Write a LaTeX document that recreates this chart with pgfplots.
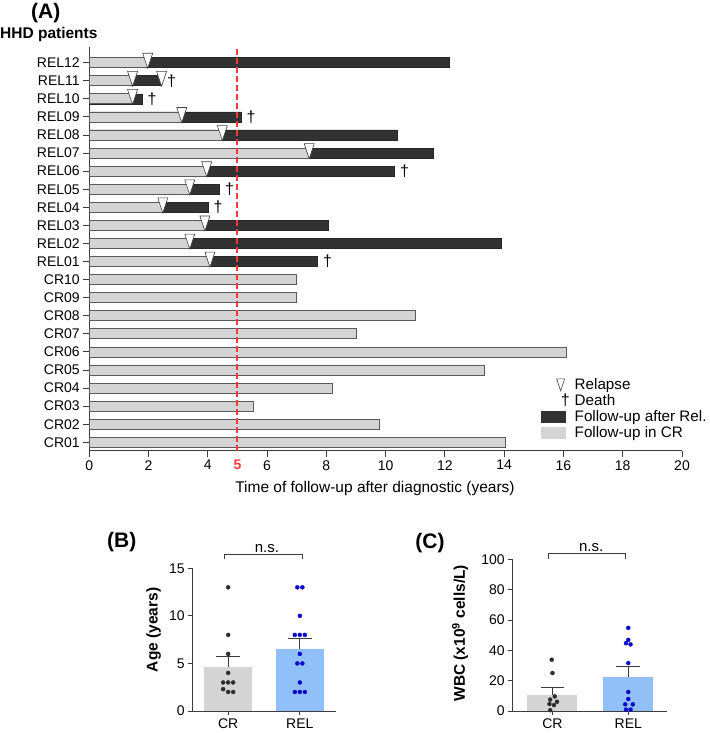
\documentclass[border=0pt]{standalone}
\usepackage{pgfplots}
\pgfplotsset{compat=1.18}
\usepackage{fontspec}
\setmainfont{Liberation Sans}
\definecolor{lightbar}{RGB}{212,212,212}
\definecolor{darkbar}{RGB}{50,50,50}
\definecolor{barborder}{RGB}{90,90,90}
\definecolor{axgray}{RGB}{60,60,60}
\definecolor{redline}{RGB}{250,55,55}
\definecolor{crfill}{RGB}{212,212,212}
\definecolor{relfill}{RGB}{145,192,248}
\definecolor{reldot}{RGB}{10,10,200}
\definecolor{crdot}{RGB}{45,45,45}
\pgfdeclareplotmark{dtri}{%
 \pgfpathmoveto{\pgfqpoint{-5pt}{9.4pt}}%
 \pgfpathlineto{\pgfqpoint{5pt}{9.4pt}}%
 \pgfpathlineto{\pgfqpoint{0pt}{-5.6pt}}%
 \pgfpathclose\pgfusepathqfillstroke}
\pgfdeclareplotmark{dag}{\pgftext[x=10pt]{\fontsize{16}{17}\selectfont †}}
\newcommand{\tl}{\fontsize{14}{16}\selectfont}
\newcommand{\lb}{\fontsize{15.5}{18}\selectfont}
\begin{document}
\begin{tikzpicture}
\useasboundingbox (0pt,0pt) rectangle (709pt,733pt);
% ---------------- Panel A ----------------
\begin{axis}[
  at={(89.3pt,282.3pt)}, anchor=south west,
  scale only axis, width=592.7pt, height=404pt,
  xmin=0, xmax=20, ymin=0.535, ymax=22.885,
  axis lines*=left,
  axis line style={draw=axgray, line width=0.9pt},
  tick align=outside, major tick length=6pt,
  tick style={draw=axgray, line width=0.9pt},
  xtick={0,2,...,20}, ytick={1,...,22},
  yticklabels={CR01,CR02,CR03,CR04,CR05,CR06,CR07,CR08,CR09,CR10,REL01,REL02,REL03,REL04,REL05,REL06,REL07,REL08,REL09,REL10,REL11,REL12},
  extra x ticks={5}, extra x tick labels={\textbf{5}},
  extra x tick style={major tick style={draw=none}, tick label style={text=redline}},
  ticklabel style={font=\tl},
  /pgf/number format/assume math mode=true,
  xlabel={Time of follow-up after diagnostic (years)},
  xlabel style={font=\lb, at={(axis description cs:0.482,-0.093)}, anchor=center},
  clip=false,
  legend style={draw=none, fill=none, at={(axis description cs:0.762,0.0257)}, anchor=south west,
    font=\fontsize{15.2}{18}\selectfont, inner sep=0pt, row sep=1.5pt, column sep=4pt, nodes={inner sep=1pt}},
  legend cell align=left,
]
\addlegendimage{legend image code/.code={\path[draw=none,fill=none] (0pt,-5.3pt) rectangle (24pt,5.3pt);
  \draw[fill=white, draw=black!75, line width=0.6pt] (15.3pt,6pt) -- (23.3pt,6pt) -- (19.3pt,-6pt) -- cycle;}}
\addlegendentry{Relapse}
\addlegendimage{legend image code/.code={\path[draw=none,fill=none] (0pt,-5.3pt) rectangle (24pt,5.3pt);
  \node[inner sep=0pt, font=\fontsize{16}{17}\selectfont, text=black] at (19.3pt,0pt) {†};}}
\addlegendentry{Death}
\addlegendimage{legend image code/.code={\fill[darkbar] (0pt,-5.3pt) rectangle (24pt,5.3pt);}}
\addlegendentry{Follow-up after Rel.}
\addlegendimage{legend image code/.code={\fill[lightbar] (0pt,-5.3pt) rectangle (24pt,5.3pt);}}
\addlegendentry{Follow-up in CR}
% follow-up after relapse (total length)
\addplot[xbar, bar shift=0pt, bar width=10pt, fill=darkbar, draw=black!85, line width=0.6pt, forget plot]
 coordinates {(12.14,22) (2.44,21) (1.78,20) (5.12,19) (10.39,18) (11.60,17) (10.30,16) (4.40,15) (4.01,14) (8.08,13) (13.90,12) (7.70,11)};
% follow-up in CR
\addplot[xbar, bar shift=0pt, bar width=10pt, fill=lightbar, draw=barborder, line width=0.7pt, forget plot]
 coordinates {(1.97,22) (1.46,21) (1.46,20) (3.12,19) (4.49,18) (7.42,17) (3.96,16) (3.39,15) (2.48,14) (3.90,13) (3.39,12) (4.07,11)
 (6.99,10) (6.99,9) (10.99,8) (9.00,7) (16.10,6) (13.32,5) (8.20,4) (5.53,3) (9.78,2) (14.03,1)};
% 5-year line
\addplot[redline, line width=2pt, dash pattern=on 6pt off 3pt, forget plot] coordinates {(5,0.535) (5,22.885)};
% relapses
\addplot[only marks, mark=dtri, mark options={fill=white, draw=black!75, line width=0.6pt}, forget plot]
 coordinates {(1.97,22) (1.46,21) (2.44,21) (1.46,20) (3.12,19) (4.49,18) (7.42,17) (3.96,16) (3.39,15) (2.48,14) (3.90,13) (3.39,12) (4.07,11)};
% deaths
\addplot[only marks, mark=dag, forget plot]
 coordinates {(2.44,21) (1.78,20) (5.12,19) (10.30,16) (4.40,15) (4.01,14) (7.70,11)};
\end{axis}
\node[font=\bfseries\fontsize{21}{24}\selectfont] at (45.8pt,720pt) {(A)};
\node[font=\bfseries\lb, anchor=west, inner sep=0pt] at (0pt,698pt) {HHD patients};
% ---------------- Panel B ----------------
\begin{axis}[
  at={(192.3pt,22pt)}, anchor=south west,
  scale only axis, width=143.4pt, height=142.7pt,
  xmin=-0.5, xmax=1.5, ymin=0, ymax=15,
  axis lines*=left,
  axis line style={draw=axgray, line width=0.9pt},
  tick align=outside, major tick length=4pt,
  tick style={draw=axgray, line width=0.9pt},
  xtick={0,1}, xticklabels={CR,REL}, ytick={0,5,10,15},
  ticklabel style={font=\tl},
  /pgf/number format/assume math mode=true,
  ylabel={Age (years)},
  ylabel style={font=\bfseries\lb, at={(axis description cs:-0.27,0.568)}, anchor=center},
  clip=false,
]
\addplot[ybar, bar shift=0pt, bar width=48pt, fill=crfill, draw=none,
  error bars/.cd, y dir=plus, y explicit, error mark=|,
  error bar style={draw=axgray, line width=1.2pt},
  error mark options={draw=axgray, line width=1.2pt, mark size=11.8pt}]
  coordinates {(0,4.59) +- (0,1.16)};
\addplot[ybar, bar shift=0pt, bar width=48pt, fill=relfill, draw=none,
  error bars/.cd, y dir=plus, y explicit, error mark=|,
  error bar style={draw=axgray, line width=1.2pt},
  error mark options={draw=axgray, line width=1.2pt, mark size=11.8pt}]
  coordinates {(1,6.52) +- (0,1.12)};
\addplot[only marks, mark=*, mark size=2pt, color=crdot]
  coordinates {(0,13) (0,8) (0,6) (0,4) (-0.07,3) (0,3) (0.07,3) (-0.07,2.3) (0,2) (0.07,2)};
\addplot[only marks, mark=*, mark size=2pt, color=reldot]
  coordinates {(0.965,13) (1.035,13) (1,10) (0.93,8) (1,8) (1.07,8) (1,6) (0.965,5) (1.035,5) (1,3) (0.93,2) (1,2) (1.07,2)};
\addplot[draw=axgray, line width=1pt] coordinates {(-0.05,15.95) (-0.05,16.5) (1.04,16.5) (1.04,15.95)};
\node[font=\fontsize{15}{17}\selectfont] at (axis cs:0.54,17.1) {n.s.};
\end{axis}
\node[font=\bfseries\fontsize{21}{24}\selectfont] at (121.7pt,190.7pt) {(B)};
% ---------------- Panel C ----------------
\begin{axis}[
  at={(512.3pt,22pt)}, anchor=south west,
  scale only axis, width=154.4pt, height=151.7pt,
  xmin=-0.53, xmax=1.507, ymin=0, ymax=100,
  axis lines*=left,
  axis line style={draw=axgray, line width=0.9pt},
  tick align=outside, major tick length=4pt,
  tick style={draw=axgray, line width=0.9pt},
  xtick={0,1}, xticklabels={CR,REL}, ytick={0,20,...,100},
  ticklabel style={font=\tl},
  /pgf/number format/assume math mode=true,
  ylabel={WBC (x10\textsuperscript{9} cells/L)},
  ylabel style={font=\bfseries\lb, at={(axis description cs:-0.339,0.512)}, anchor=center},
  clip=false,
]
\addplot[ybar, bar shift=0pt, bar width=50pt, fill=crfill, draw=none,
  error bars/.cd, y dir=plus, y explicit, error mark=|,
  error bar style={draw=axgray, line width=1.2pt},
  error mark options={draw=axgray, line width=1.2pt, mark size=11.8pt}]
  coordinates {(0,10.6) +- (0,4.7)};
\addplot[ybar, bar shift=0pt, bar width=50pt, fill=relfill, draw=none,
  error bars/.cd, y dir=plus, y explicit, error mark=|,
  error bar style={draw=axgray, line width=1.2pt},
  error mark options={draw=axgray, line width=1.2pt, mark size=11.8pt}]
  coordinates {(1,22.7) +- (0,6.8)};
\addplot[only marks, mark=*, mark size=2pt, color=crdot]
  coordinates {(-0.01,33.8) (0,25) (0.03,9.6) (-0.03,7.5) (-0.04,4.6) (0.02,3.9) (0.06,6.1) (-0.03,0.5)};
\addplot[only marks, mark=*, mark size=2pt, color=reldot]
  coordinates {(1,54.8) (1,46.9) (0.97,44.7) (1.03,43.9) (1,31.6) (1,12.5) (1,7.9) (0.96,4.4) (1.06,4.4) (0.97,0.9) (1.03,0.9)};
\addplot[draw=axgray, line width=1pt] coordinates {(-0.055,100.2) (-0.055,103.5) (0.966,103.5) (0.966,100.2)};
\node[font=\fontsize{15}{17}\selectfont] at (axis cs:0.51,107.9) {n.s.};
\end{axis}
\node[font=\bfseries\fontsize{21}{24}\selectfont] at (430pt,190.3pt) {(C)};
\end{tikzpicture}
\end{document}
